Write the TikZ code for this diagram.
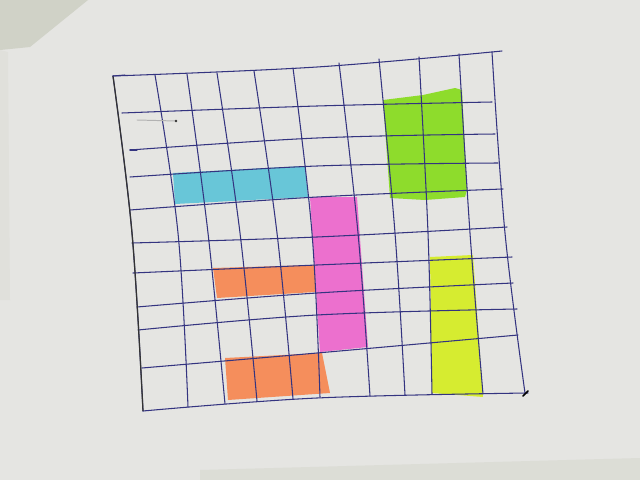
\documentclass[tikz,border=0pt]{standalone}
\usetikzlibrary{positioning}

\definecolor{paper}{RGB}{229,229,226}
\definecolor{wall}{RGB}{208,210,199}
\definecolor{penblue}{RGB}{52,52,128}
\definecolor{hlcyan}{RGB}{104,198,216}
\definecolor{hlgreen}{RGB}{142,220,44}
\definecolor{hlpink}{RGB}{236,112,206}
\definecolor{hlorange}{RGB}{245,142,92}
\definecolor{hlyellow}{RGB}{214,236,48}

\begin{document}
\begin{tikzpicture}[x=0.025cm, y=-0.025cm,
    ink/.style={penblue, line width=0.75pt, line cap=round},
    hl/.style={draw=none}]
  \useasboundingbox (0,0) rectangle (640,480);
  % paper and the wall behind it
  \fill[paper] (0,0) rectangle (640,480);
  \fill[wall] (0,0) -- (88,0) -- (30,47) -- (0,50) -- cycle;
  \fill[wall!25!paper] (0,50) -- (8,52) -- (10,300) -- (0,300) -- cycle;
  \fill[wall!45!paper] (200,470) -- (640,458) -- (640,480) -- (200,480) -- cycle;

  % highlighted blocks
  \fill[hl, hlcyan] (173,173) -- (305,166) -- (308,197) -- (175,204) -- cycle;
  \fill[hl, hlgreen] (383,100) -- (423,95) -- (455,88) -- (462,90) -- (467,190)
    -- (465,197) -- (425,200) -- (390,198) -- cycle;
  \fill[hl, hlpink] (310,197) -- (357,197) -- (368,347) -- (320,352) -- cycle;
  \fill[hl, hlorange] (213,268) -- (315,265) -- (315,292) -- (217,298) -- cycle;
  \fill[hl, hlorange] (225,358) -- (322,353) -- (330,393) -- (228,400) -- cycle;
  \fill[hl, hlyellow] (430,257) -- (473,255) -- (483,397) -- (432,393) -- cycle;

  % grid, rows
  \foreach \xa/\ya/\ym/\xb/\yb in {113/76/67/502/51, 122/113/106/492/102,
      130/150/138/495/134, 130/177/166/498/163, 130/210/197/503/189,
      132/243/237/507/227, 133/273/265/512/257, 137/307/293/513/283,
      138/330/315/517/309, 142/368/353/518/335, 143/411/398/528/393}
    \draw[ink] plot[smooth, tension=0.6] coordinates {(\xa,\ya) (317,\ym) (\xb,\yb)};
  % grid, columns
  \foreach \xa/\ya/\xm/\xb/\yb in {113/76/132/143/411, 155/75/178/188/407,
      187/74/208/225/404, 217/73/240/257/401, 254/71/277/293/399,
      293/68/312/320/397, 339/63/358/370/396, 379/59/395/405/395,
      419/57/428/432/394, 459/54/470/483/394, 492/52/505/525/393}
    \draw[ink] plot[smooth, tension=0.6] coordinates {(\xa,\ya) (\xm,233) (\xb,\yb)};
  \draw[black!80, line width=0.9pt] plot[smooth, tension=0.6] coordinates {(113,76) (132,233) (143,411)};

  % pen marks
  \draw[black!30, line width=0.7pt, line cap=round] (137,120) -- (176,121);
  \fill[black!80] (176,121) circle (1.3);
  \draw[ink] (113,76) -- (125,75);
  \draw[ink] (130,150) -- (137,150);
  \draw[black, line width=1.2pt, line cap=round] (523,396) -- (528,391);
\end{tikzpicture}
\end{document}
